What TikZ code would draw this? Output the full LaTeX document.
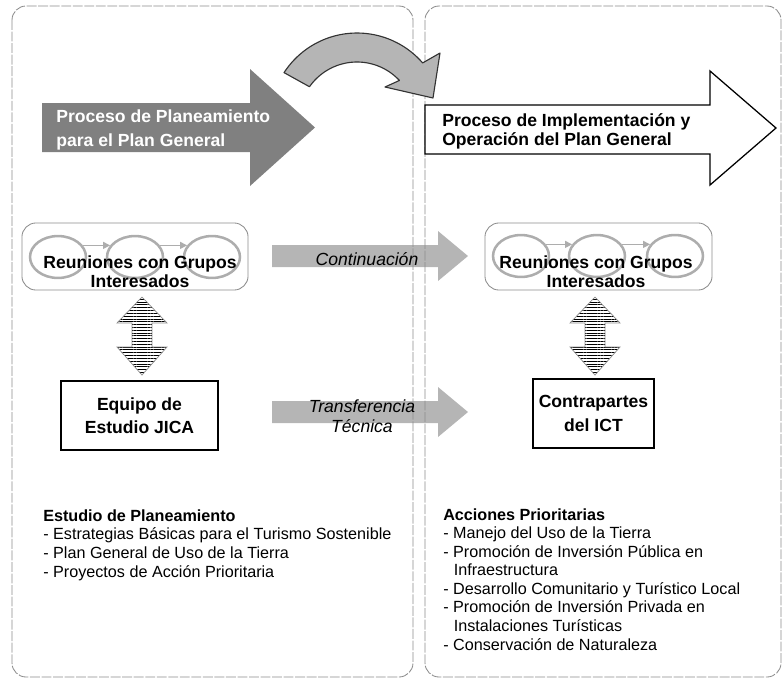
\documentclass[tikz,border=0pt]{standalone}
\usepackage{fontspec}
\setmainfont{Liberation Sans}
\usetikzlibrary{shapes.geometric,patterns.meta,arrows.meta}

\definecolor{framegray}{gray}{0.55}
\definecolor{darkarrow}{gray}{0.5}
\definecolor{lightarrow}{gray}{0.71}
\definecolor{ringgray}{gray}{0.68}

\begin{document}
\begin{tikzpicture}[
  x=0.025cm, y=-0.025cm,
  every node/.style = {font=\fontsize{12.5}{13}\selectfont\bfseries, inner sep=0pt},
  panel/.style     = {draw=framegray, dash pattern=on 7pt off 1.2pt, line width=0.6pt, rounded corners=10pt},
  groupbox/.style  = {draw=framegray, line width=0.6pt, rounded corners=10pt, minimum height=47.7pt},
  ring/.style      = {ellipse, draw=ringgray, line width=1.8pt, minimum width=39.8pt, minimum height=29.8pt},
  ringlink/.style  = {draw=ringgray, line width=0.9pt, -{Triangle[length=5pt,width=5pt]}},
  teambox/.style   = {draw, line width=1.1pt, minimum height=49.1pt, align=center,
                      font=\fontsize{12.5}{16.5}\selectfont\bfseries},
  stripes/.style   = {draw=framegray, line width=0.5pt, pattern color=black,
                      pattern={Lines[angle=0, distance=2pt, line width=0.7pt]}},
  slanted/.style   = {font=\fontsize{12.5}{14}\selectfont\itshape, align=center},
  listtext/.style  = {font=\fontsize{11.5}{13.2}\selectfont, align=left},
]
\useasboundingbox (0,0) rectangle (783,679);

% ── Light block arrows between the two panels ────────────────────────────
\foreach \yc in {256,412} {
  \fill[lightarrow] (272,\yc-11) -- (438,\yc-11) -- (438,\yc-25) -- (468,\yc)
    -- (438,\yc+25) -- (438,\yc+11) -- (272,\yc+11) -- cycle;
}

% ── Panels ────────────────────────────────────────────────────────────────
\draw[panel] (12,6) rectangle (413,677);
\draw[panel] (425,6) rectangle (781,677);

% ── Process arrows ────────────────────────────────────────────────────────
\fill[darkarrow] (42,103) -- (250,103) -- (250,69) -- (315,127.5)
  -- (250,186) -- (250,152) -- (42,152) -- cycle;
\draw[line width=0.9pt, fill=white] (425,105) -- (710,105) -- (710,71)
  -- (776,128) -- (710,185) -- (710,154) -- (425,154) -- cycle;

% curved arrow from planning to implementation
\draw[draw=black!80, line width=0.8pt, fill=lightarrow, line join=round]
  plot[domain=213:319, samples=40] ({357+87*cos(\x)},{120+87*sin(\x)})
  -- (440,53) -- (433,98) -- (385,87)
  -- plot[domain=317:215, samples=40] ({357+58*cos(\x)},{120+58*sin(\x)}) -- cycle;

% (multi-line nodes: base = last line)
\node[white, align=left, anchor=base west, font=\fontsize{12.5}{16.4}\selectfont\bfseries]
  (planning) at (56,146) {Proceso de Planeamiento\\para el Plan General};
\node[align=left, anchor=base west] (implement) at (442,145)
  {Proceso de Implementación y\\Operación del Plan General};

% ── Meetings with interest groups ─────────────────────────────────────────
\node[groupbox, minimum width=160.8pt] (meetL) at (135,256.5) {};
\node[groupbox, minimum width=161.5pt] (meetR) at (598.5,256.5) {};

\foreach \n/\x in {1/58, 2/135, 3/212} {
  \node[ring] (ringL\n) at (\x,257) {};
}
\foreach \n/\x in {1/521, 2/597, 3/675} {
  \node[ring] (ringR\n) at (\x,256) {};
}
\foreach \a/\b in {1/2, 2/3} {
  \draw[ringlink] (ringL\a.25) -- (ringL\b.155);
  \draw[ringlink] (ringR\a.25) -- (ringR\b.155);
}

\node[align=center, anchor=base] (meetLtext) at (140,287) {Reuniones con Grupos\\Interesados};
\node[align=center, anchor=base] (meetRtext) at (596,287) {Reuniones con Grupos\\Interesados};

% ── Teams ─────────────────────────────────────────────────────────────────
\node[teambox, minimum width=111.7pt] (teamL) at (139.5,415.5) {Equipo de\\Estudio JICA};
\node[teambox, minimum width=86.1pt] (teamR) at (593.5,413.5) {Contrapartes\\del ICT};

% two-way striped arrows
\foreach \cx in {142,595} {
  \draw[stripes] (\cx,297) -- (\cx+25,323) -- (\cx+10,323) -- (\cx+10,347)
    -- (\cx+25,347) -- (\cx,375) -- (\cx-25,347) -- (\cx-10,347)
    -- (\cx-10,323) -- (\cx-25,323) -- cycle;
}

% ── Arrow labels ──────────────────────────────────────────────────────────
\node[slanted, anchor=base] (follow) at (367,265) {Continuación};
\node[slanted, anchor=base] (transfer) at (362,432) {Transferencia\\Técnica};

% ── Lists ─────────────────────────────────────────────────────────────────
\node[listtext, anchor=base west] (study) at (43,577)
  {\textbf{Estudio de Planeamiento}\\
   - Estrategias Básicas para el Turismo Sostenible\\
   - Plan General de Uso de la Tierra\\
   - Proyectos de Acción Prioritaria};

\node[listtext, anchor=base west] (actions) at (443,650)
  {\textbf{Acciones Prioritarias}\\
   - Manejo del Uso de la Tierra\\
   - Promoción de Inversión Pública en\\
   \hspace*{0.65em}Infraestructura\\
   - Desarrollo Comunitario y Turístico Local\\
   - Promoción de Inversión Privada en\\
   \hspace*{0.65em}Instalaciones Turísticas\\
   - Conservación de Naturaleza};

\end{tikzpicture}
\end{document}
